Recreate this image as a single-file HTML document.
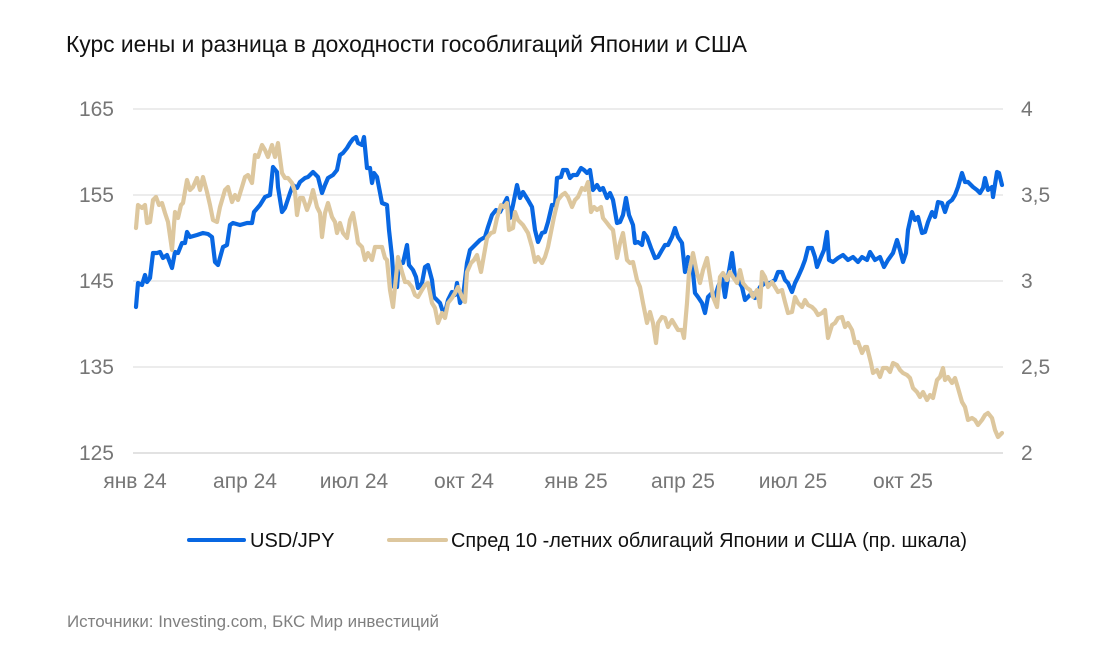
<!DOCTYPE html>
<html>
<head>
<meta charset="utf-8">
<style>
  html,body{margin:0;padding:0;background:#fff;}
  svg{display:block;}
  text{font-family:"Liberation Sans", Arial, sans-serif;}
</style>
</head>
<body>
<svg width="1115" height="670" viewBox="0 0 1115 670" xmlns="http://www.w3.org/2000/svg">
  <rect width="1115" height="670" fill="#ffffff"/>
  <!-- Title -->
  <text x="66" y="52" font-size="23" fill="#111" textLength="681" lengthAdjust="spacingAndGlyphs">Курс иены и разница в доходности гособлигаций Японии и США</text>

  <!-- Gridlines -->
  <g stroke="#d9d9d9" stroke-width="1">
    <line x1="133" y1="109" x2="1003" y2="109"/>
    <line x1="133" y1="195" x2="1003" y2="195"/>
    <line x1="133" y1="281" x2="1003" y2="281"/>
    <line x1="133" y1="367" x2="1003" y2="367"/>
  </g>
  <line x1="133" y1="453" x2="1003" y2="453" stroke="#d0d0d0" stroke-width="1.3"/>

  <!-- Left axis labels -->
  <g font-size="21" fill="#767676" text-anchor="end">
    <text x="114" y="116">165</text>
    <text x="114" y="202">155</text>
    <text x="114" y="288">145</text>
    <text x="114" y="374">135</text>
    <text x="114" y="460">125</text>
  </g>
  <!-- Right axis labels -->
  <g font-size="21" fill="#767676" text-anchor="start">
    <text x="1021" y="116">4</text>
    <text x="1021" y="202">3,5</text>
    <text x="1021" y="288">3</text>
    <text x="1021" y="374">2,5</text>
    <text x="1021" y="460">2</text>
  </g>
  <!-- X axis labels -->
  <g font-size="21" fill="#767676" text-anchor="middle">
    <text x="135" y="488">янв 24</text>
    <text x="245" y="488">апр 24</text>
    <text x="354" y="488">июл 24</text>
    <text x="464" y="488">окт 24</text>
    <text x="576" y="488">янв 25</text>
    <text x="683" y="488">апр 25</text>
    <text x="793" y="488">июл 25</text>
    <text x="903" y="488">окт 25</text>
  </g>

  <!-- USD/JPY -->
  <polyline fill="none" stroke="#0867e2" stroke-width="4.2" stroke-linejoin="round" stroke-linecap="round"
    points="136,307 138,283 142,285 145,275 147,282 150,278 153,253 157,253 160,252 163,258 167,255 172,268 175,252 178,253 182,243 185,243 187,232 190,237 197,235 203,233 208,234 212,237 215,262 218,265 223,247 227,245 230,225 233,223 240,225 247,223 252,223 254,212 260,205 265,197 270,195 273,167 277,172 278,187 282,212 285,208 290,193 293,185 297,188 300,182 305,178 308,177 313,172 318,177 322,193 325,185 328,178 333,175 337,170 340,155 343,153 347,148 350,143 353,139 356,137 358,143 362,145 364,137 367,168 370,168 372,183 374,173 377,177 382,203 387,205 389,230 392,257 394,287 397,287 399,262 403,263 407,245 409,265 413,270 416,277 418,288 422,283 425,267 428,265 432,280 434,297 437,300 440,303 443,312 445,313 448,300 452,292 455,295 457,283 460,303 463,297 467,263 470,250 473,247 477,243 480,240 485,237 488,227 492,215 496,210 500,212 505,202 507,198 510,218 513,205 517,185 520,198 523,192 528,200 532,207 535,230 538,242 542,233 545,232 548,222 552,205 555,205 557,178 561,177 563,170 567,170 570,178 573,175 577,175 581,168 584,170 587,173 590,170 593,190 597,185 600,190 603,188 607,198 610,193 613,200 617,223 620,222 623,215 626,198 629,215 633,225 635,243 638,242 642,245 644,233 647,237 651,248 655,258 658,257 662,250 665,245 668,245 672,237 675,228 678,237 682,243 685,272 688,257 692,262 695,293 698,297 702,303 705,313 708,297 712,293 715,297 718,287 722,277 725,297 728,277 732,253 735,277 738,280 742,287 745,300 748,297 752,293 755,298 760,287 765,283 770,283 775,280 778,272 782,272 785,280 788,283 792,292 795,283 798,277 802,268 805,260 808,248 812,248 815,257 817,267 821,257 824,250 827,232 829,260 833,262 838,258 843,255 848,260 853,257 858,262 862,257 867,260 870,252 875,260 880,257 884,267 888,260 893,253 897,240 900,250 903,262 906,253 908,230 912,212 915,220 918,217 922,233 925,232 928,222 932,212 935,217 938,202 942,203 945,212 948,203 952,200 955,195 958,187 962,173 965,182 968,182 973,187 977,190 980,193 983,188 985,178 988,190 992,187 993,197 997,172 999,173 1002,185"/>

  <!-- Spread -->
  <polyline fill="none" stroke="#ddc79e" stroke-width="4.2" stroke-linejoin="round" stroke-linecap="round"
    points="136,228 138,205 142,208 145,205 147,223 150,222 153,200 156,197 159,205 162,203 165,213 168,222 172,250 175,212 178,218 181,205 183,203 187,180 190,190 193,187 197,178 200,190 203,177 207,192 210,205 213,220 217,222 220,207 225,190 228,187 232,202 235,195 238,200 242,187 245,177 248,175 252,183 255,155 258,157 262,145 265,150 268,157 272,145 275,157 278,143 282,173 285,178 288,178 292,183 295,192 297,215 300,198 303,198 307,210 310,202 313,190 317,207 320,213 322,237 325,213 328,203 332,217 335,222 337,233 340,223 343,233 347,238 350,220 353,213 356,230 358,243 362,247 365,260 368,253 372,260 375,247 378,247 382,247 385,258 387,260 390,290 393,307 395,287 398,257 402,272 405,282 408,282 412,287 415,295 418,297 422,290 425,285 428,283 432,303 435,308 438,323 442,313 445,318 448,303 452,298 455,293 458,287 462,297 465,302 467,272 471,263 474,260 477,255 481,272 484,255 487,238 491,233 494,232 497,218 501,205 504,207 507,203 509,230 513,228 515,212 518,220 523,225 528,233 532,247 535,262 538,257 542,263 545,257 548,247 552,227 554,217 558,200 562,195 565,193 568,197 572,207 575,200 578,197 582,188 585,190 588,182 591,212 594,207 597,210 601,207 603,218 607,223 610,227 613,230 617,258 620,243 623,233 627,260 630,263 633,262 637,280 640,287 643,303 647,323 650,312 653,323 656,343 658,323 662,317 665,318 668,327 672,320 675,325 678,330 682,330 684,338 687,303 689,273 693,253 697,273 700,283 703,270 707,258 710,277 713,297 717,307 720,277 723,273 727,280 730,272 733,277 737,283 740,270 743,283 747,288 750,290 753,297 757,290 760,307 762,272 765,277 768,287 772,282 775,287 778,292 782,290 785,302 788,313 792,312 795,297 798,303 802,307 805,300 808,305 812,307 815,310 818,315 822,313 825,310 828,338 832,325 835,323 838,318 842,317 845,327 848,323 852,330 855,343 858,342 862,353 865,347 867,347 871,363 873,373 877,370 880,377 883,368 887,368 890,372 893,363 897,365 900,370 903,373 907,375 910,378 913,388 917,392 920,397 923,392 927,400 930,395 933,398 937,380 940,377 943,368 945,380 948,377 952,383 955,378 958,388 962,402 965,407 968,420 972,418 975,420 978,425 982,420 985,415 988,413 992,418 995,430 998,437 1002,433"/>

  <!-- Legend -->
  <line x1="189" y1="540" x2="244" y2="540" stroke="#0867e2" stroke-width="4" stroke-linecap="round"/>
  <text x="250" y="547" font-size="20" fill="#111">USD/JPY</text>
  <line x1="389" y1="540" x2="446" y2="540" stroke="#ddc79e" stroke-width="4" stroke-linecap="round"/>
  <text x="451" y="547" font-size="20" fill="#111" textLength="516" lengthAdjust="spacingAndGlyphs">Спред 10 -летних облигаций Японии и США (пр. шкала)</text>

  <!-- Footer -->
  <text x="67" y="627" font-size="16.5" fill="#7f7f7f" textLength="372" lengthAdjust="spacingAndGlyphs">Источники: Investing.com, БКС Мир инвестиций</text>
</svg>
</body>
</html>
